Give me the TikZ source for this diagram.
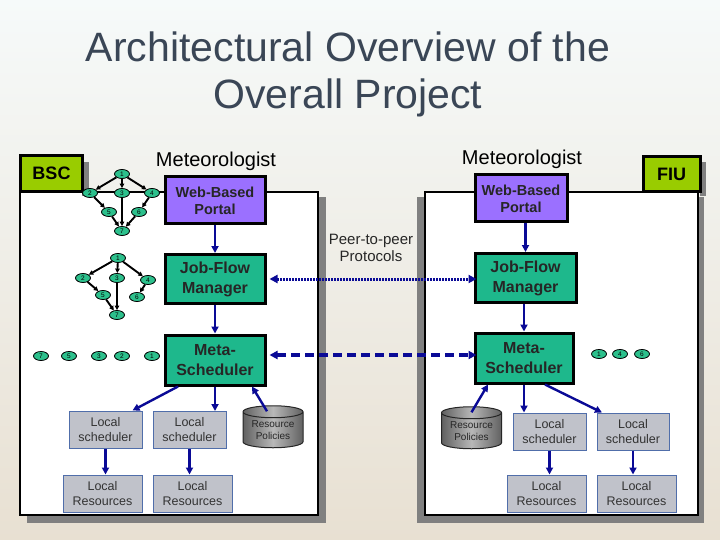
\documentclass[tikz,border=0pt]{standalone}
\usepackage{fontspec}
\setmainfont{Liberation Sans}
\usetikzlibrary{shapes.geometric,arrows.meta}
\definecolor{titlec}{RGB}{58,70,86}
\definecolor{tealc}{RGB}{30,184,140}
\definecolor{dagc}{RGB}{44,192,140}
\definecolor{portalc}{RGB}{155,112,255}
\definecolor{limec}{RGB}{153,204,0}
\definecolor{localc}{RGB}{192,194,202}
\definecolor{localb}{RGB}{80,110,170}
\definecolor{arrowc}{RGB}{10,10,150}
\definecolor{shadowc}{RGB}{128,128,128}
\definecolor{bgtop}{RGB}{246,250,250}
\definecolor{bgbot}{RGB}{232,224,210}
\begin{document}
\begin{tikzpicture}[x=1pt,y=-1pt,
  boxbase/.style={draw=black, line width=3pt, inner sep=0pt, align=center},
  portalbox/.style={boxbase, fill=portalc, font=\bfseries\fontsize{14.5}{17}\selectfont, text=black!85, minimum width=100, minimum height=47},
  jobbox/.style={boxbase, fill=tealc, font=\bfseries\fontsize{16}{20}\selectfont, text=black!85, minimum width=100, minimum height=49},
  sitebox/.style={draw=black, line width=3pt, fill=limec, font=\bfseries\fontsize{18}{20}\selectfont, inner sep=0pt},
  localbox/.style={draw=localb, line width=1pt, fill=localc, font=\fontsize{12.5}{15}\selectfont, text=black!80, align=center, inner sep=0pt, minimum width=73, minimum height=37},
  resbox/.style={localbox, minimum width=79},
  cylbox/.style={cylinder, shape border rotate=90, aspect=0.28, draw=black!85, line width=1pt, minimum width=60, minimum height=42, left color=black!62, right color=black!62, middle color=black!28, font=\fontsize{10}{12}\selectfont, align=center, inner sep=0pt, text=black!85},
  dagn/.style={ellipse, draw=black, line width=0.8pt, fill=dagc, minimum width=15, minimum height=9, inner sep=0pt, font=\fontsize{6.5}{7}\selectfont},
  dagarrow/.style={draw=black, line width=1.9pt, -{Triangle[length=4.5pt,width=4.5pt]}},
  barrow/.style={draw=arrowc, line width=2.4pt, -{Triangle[length=7pt,width=7pt]}},
  dotarrow/.style={draw=arrowc, line width=3pt, dash pattern=on 2pt off 1pt, {Triangle[length=8pt,width=8pt]}-{Triangle[length=8pt,width=8pt]}},
  dasharrow/.style={draw=arrowc, line width=3.4pt, dash pattern=on 9pt off 5pt, {Triangle[length=8pt,width=8pt]}-{Triangle[length=8pt,width=8pt]}},
  metlabel/.style={font=\fontsize{20}{24}\selectfont, text=black, inner sep=0pt}
]
\useasboundingbox (0,0) rectangle (720,540);
% background
\shade[top color=bgtop, bottom color=bgbot] (0,0) rectangle (720,540);

% title
\node[font=\fontsize{41}{48}\selectfont, text=titlec, anchor=base, inner sep=0pt] (title1) at (348,62) {Architectural Overview of the};
\node[font=\fontsize{41}{48}\selectfont, text=titlec, anchor=base, inner sep=0pt] (title2) at (348,109) {Overall Project};

% frames with shadows
\fill[shadowc] (27,197) rectangle (326,523);
\draw[fill=white, line width=1.5pt] (20,192) rectangle (318,515);
\fill[shadowc] (417,197) rectangle (704,523);
\draw[fill=white, line width=1.5pt] (425,192) rectangle (698,515);

% site labels
\fill[shadowc] (82,162) rectangle (89,196);
\node[sitebox, minimum width=62, minimum height=36] (bsc) at (51.5,173.5) {BSC};
\fill[shadowc] (700,162) rectangle (706,196);
\node[sitebox, minimum width=57, minimum height=35] (fiu) at (671.5,174.5) {FIU};

% meteorologists
\node[metlabel] (metL) at (216,161) {Meteorologist};
\node[metlabel] (metR) at (522,159) {Meteorologist};

% peer-to-peer label
\node[font=\fontsize{15}{17}\selectfont, align=center, inner sep=0pt, text=black!85] (p2p) at (371,248) {Peer-to-peer\\Protocols};

% main boxes
\node[portalbox] (portalL) at (215,200.5) {Web-Based\\Portal};
\node[portalbox, minimum width=92] (portalR) at (521,198.5) {Web-Based\\Portal};
\node[jobbox] (jfL) at (215,279) {Job-Flow\\Manager};
\node[jobbox, minimum width=101] (jfR) at (525.5,278) {Job-Flow\\Manager};
\node[jobbox, minimum height=50] (msL) at (215,360) {Meta-\\Scheduler};
\node[jobbox, minimum width=98, minimum height=50] (msR) at (524,358) {Meta-\\Scheduler};

% local boxes
\node[localbox] (lsL1) at (105.5,429.5) {Local\\scheduler};
\node[localbox] (lsL2) at (189.5,430) {Local\\scheduler};
\node[resbox] (lrL1) at (102.5,493.5) {Local\\Resources};
\node[resbox] (lrL2) at (192.5,493.5) {Local\\Resources};
\node[cylbox] (cylL) at (273,430) {Resource\\Policies};

\node[localbox] (lsR1) at (549.5,431.5) {Local\\scheduler};
\node[localbox, minimum width=72] (lsR2) at (633,431.5) {Local\\scheduler};
\node[resbox] (lrR1) at (546.5,493.5) {Local\\Resources};
\node[resbox] (lrR2) at (636.5,493.5) {Local\\Resources};
\node[cylbox] (cylR) at (471.5,431) {Resource\\Policies};

% blue arrows
\draw[barrow] (portalL.south) -- (jfL.north);
\draw[barrow] (jfL.south) -- (msL.north);
\draw[barrow] (portalR.south -| jfR.north) -- (jfR.north);
\draw[barrow] (jfR.south -| msR.north) -- (msR.north);
\draw[dotarrow] ([xshift=3pt]jfL.east) -- ([xshift=3pt]jfL.east -| jfR.west);
\draw[dasharrow] ([xshift=3pt,yshift=5pt]msL.east) -- ([xshift=3pt,yshift=5pt]msL.east -| msR.west);

\draw[barrow] ([xshift=-37pt]msL.south) -- ([xshift=27pt]lsL1.north);
\draw[barrow] (msL.south) -- (msL.south |- lsL2.north);
\draw[barrow] ([xshift=-6pt,yshift=-6pt]cylL.north) -- ([xshift=37pt]msL.south);
\draw[barrow] (lsL1.south) -- (lsL1.south |- lrL1.north);
\draw[barrow] (lsL2.south) -- (lsL2.south |- lrL2.north);

\draw[barrow] ([yshift=-6pt]cylR.north) -- ([xshift=-36pt]msR.south);
\draw[barrow] (msR.south) -- (msR.south |- lsR1.north);
\draw[barrow] ([xshift=21pt]msR.south) -- ([xshift=-31pt]lsR2.north);
\draw[barrow] (lsR1.south) -- (lsR1.south |- lrR1.north);
\draw[barrow] (lsR2.south) -- (lsR2.south |- lrR2.north);

% DAG 1 (top)
\node[dagn] (a1) at (122,174) {1};
\node[dagn] (a2) at (90,193) {2};
\node[dagn] (a3) at (122,193) {3};
\node[dagn] (a4) at (152,193) {4};
\node[dagn] (a5) at (109,212) {5};
\node[dagn] (a6) at (139,212) {6};
\node[dagn] (a7) at (122,231) {7};
\draw[dagarrow] (a1) -- (a2);
\draw[dagarrow] (a1) -- (a3);
\draw[dagarrow] (a1) -- (a4);
\draw[dagarrow] (a2) -- (a5);
\draw[dagarrow] (a5) -- (a7);
\draw[dagarrow] (a3) -- (a7);
\draw[dagarrow] (a4) -- (a6);
\draw[dagarrow] (a6) -- (a7);

% DAG 2 (middle)
\node[dagn] (b1) at (118,258) {1};
\node[dagn] (b2) at (83,278) {2};
\node[dagn] (b3) at (117,278) {3};
\node[dagn] (b4) at (148,280) {4};
\node[dagn] (b5) at (103,295) {5};
\node[dagn] (b6) at (137,297) {6};
\node[dagn] (b7) at (117,315) {7};
\draw[dagarrow] (b1) -- (b2);
\draw[dagarrow] (b1) -- (b3);
\draw[dagarrow] (b1) -- (b4);
\draw[dagarrow] (b2) -- (b5);
\draw[dagarrow] (b5) -- (b7);
\draw[dagarrow] (b3) -- (b7);
\draw[dagarrow] (b4) -- (b6);

% queued tasks
\node[dagn] (c7) at (41,356) {7};
\node[dagn] (c5) at (69,356) {5};
\node[dagn] (c3) at (99,356) {3};
\node[dagn] (c2) at (122,356) {2};
\node[dagn] (c1) at (152,356) {1};
\node[dagn] (d1) at (599,354) {1};
\node[dagn] (d4) at (620,354) {4};
\node[dagn] (d6) at (642,354) {6};
\end{tikzpicture}
\end{document}
